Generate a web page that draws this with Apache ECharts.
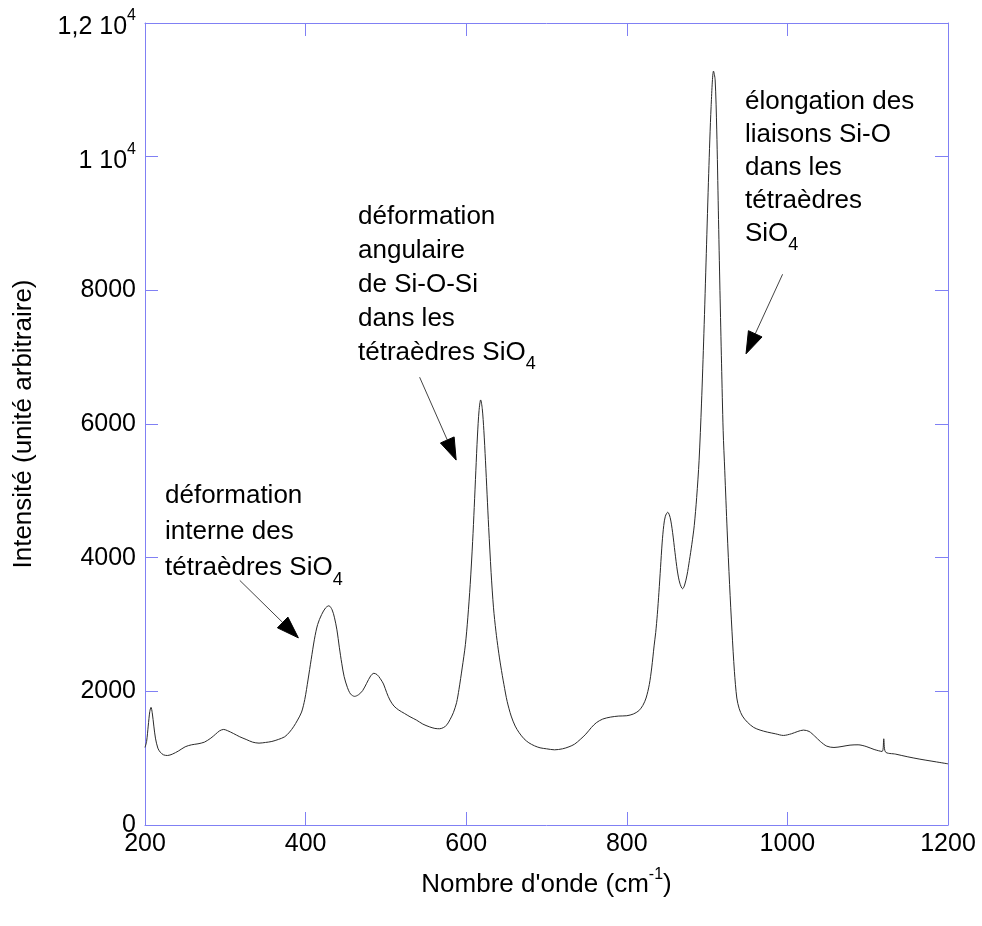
<!DOCTYPE html>
<html><head><meta charset="utf-8">
<script src="https://cdn.jsdelivr.net/npm/echarts@6/dist/echarts.min.js"></script>
<style>html,body{margin:0;padding:0;background:#fff}#c{width:982px;height:926px}</style>
</head><body><div id="c"></div>
<script>
// ---- data ----
const wavenumber = [200,202,204,206,207.5,209,211,213,216,219,223,228,234,242,250,258,266,274,282,288,293,298,303,310,318,326,334,342,350,358,366,374,380,385,390,395,399,403,407,411,415,420,425,429,433,436,439,442,445,448,452,456,461,466,471,476,481,485,489,493,497,501,505,510,516,523,530,538,546,554,561,567,572,576,580,584,588,591,595,599,602,605,608,610,612,614,616,618,620,622,624,626,628,631,634,637,640,643,647,651,656,661,666,672,678,685,692,700,710,720,728,735,742,749,756,762,770,780,790,800,808,815,820,824,828,831,834,836,838,840,842,844,846,848,851,854,857,860,863,866,869.5,872,875,878,881,884,887,890,893,896,899,902,905,908,910,912,914,916,918,920,922,925,928,931,934,937,940,944,950,958,966,975,985,995,1005,1013,1020,1027,1034,1041,1049,1058,1068,1078,1088,1098,1108,1118,1120,1122,1135,1150,1165,1180,1200];
const intensity = [1160,1250,1480,1700,1760,1680,1480,1300,1150,1090,1050,1040,1060,1110,1170,1200,1215,1240,1300,1360,1410,1430,1410,1370,1320,1280,1240,1225,1235,1250,1280,1320,1390,1470,1570,1690,1880,2170,2480,2780,3000,3150,3250,3280,3220,3100,2920,2660,2420,2220,2060,1960,1925,1950,2010,2120,2230,2270,2250,2190,2110,1980,1870,1780,1720,1670,1620,1570,1510,1470,1445,1440,1460,1500,1580,1680,1830,2030,2350,2700,3100,3600,4240,4750,5300,5820,6200,6360,6230,5900,5450,4950,4450,3780,3250,2900,2620,2380,2100,1850,1630,1480,1380,1290,1230,1185,1155,1140,1125,1140,1170,1210,1280,1360,1460,1530,1585,1615,1630,1635,1660,1710,1790,1900,2100,2350,2680,2880,3150,3480,3850,4220,4480,4620,4680,4600,4380,4080,3800,3620,3535,3590,3740,3960,4200,4480,4900,5450,6300,7350,8550,9750,10750,11280,11150,10400,9200,8000,6900,5900,5300,4400,3600,2900,2300,1900,1740,1630,1540,1460,1420,1390,1365,1340,1365,1400,1420,1400,1330,1250,1180,1160,1175,1195,1200,1175,1130,1100,1290,1095,1060,1020,985,955,915];

const xTickValues = [200, 400, 600, 800, 1000, 1200];
const yTickValues = [0, 2000, 4000, 6000, 8000, 10000, 12000];
const yTickLabels = ['0', '2000', '4000', '6000', '8000', '1 10^4', '1,2 10^4'];
const xAxisTitle = "Nombre d'onde (cm^-1)";
const yAxisTitle = 'Intensité (unité arbitraire)';

// annotation texts ("_" marks a subscript) and their arrows (tail -> tip, data coords)
const annotationLines = [
  ['déformation', 'interne des', 'tétraèdres SiO_4'],
  ['déformation', 'angulaire', 'de Si-O-Si', 'dans les', 'tétraèdres SiO_4'],
  ['élongation des', 'liaisons Si-O', 'dans les', 'tétraèdres', 'SiO_4']
];
const arrowTails = [[318, 3660], [542, 6700], [994, 8240]];
const arrowTips = [[391, 2800], [587.5, 5460], [948.5, 7050]];

// ---- presentation ----
const FONT = '"Liberation Sans", Arial, sans-serif';
const FRAME = '#8080f4';
const annotationLayout = [
  {x: 165, y: 483, lh: 36},
  {x: 358, y: 204, lh: 34},
  {x: 745, y: 89, lh: 33}
];

function supRich(t) {
  if (t.indexOf('^') < 0) return t;
  const p = t.split('^');
  const m = p[1].match(/^(-?\d+)(.*)$/);
  return '{a|' + p[0] + '}{sup|' + m[1] + '}' + (m[2] ? '{a|' + m[2] + '}' : '');
}
function subRich(t) {
  if (t.indexOf('_') < 0) return '{a|' + t + '}';
  const p = t.split('_');
  return '{a|' + p[0] + '}{sub|' + p[1] + '}';
}

const chart = echarts.init(document.getElementById('c'), null, {renderer: 'canvas'});
const seriesData = wavenumber.map((x, i) => [x, intensity[i]]);

const labelRich = {
  a: {fontSize: 25, fontFamily: FONT, color: '#000', lineHeight: 30, padding: [8, 0, 0, 0]},
  sup: {fontSize: 16, fontFamily: FONT, color: '#000', lineHeight: 16, padding: [0, 0, 14, 0]}
};
const nameRich = {
  a: {fontSize: 26, fontFamily: FONT, color: '#000', lineHeight: 30},
  sup: {fontSize: 16, fontFamily: FONT, color: '#000', lineHeight: 16, padding: [0, 0, 20, 0]}
};

const xMin = xTickValues[0], xMax = xTickValues[xTickValues.length - 1];
const xInt = xTickValues[1] - xTickValues[0];
const yMin = yTickValues[0], yMax = yTickValues[yTickValues.length - 1];
const yInt = yTickValues[1] - yTickValues[0];

function axisCommon(extra) {
  return Object.assign({
    type: 'value',
    axisLine: {show: true, onZero: false, lineStyle: {color: FRAME, width: 1}},
    axisTick: {show: true, inside: true, length: 13, lineStyle: {color: FRAME, width: 1}},
    splitLine: {show: false}
  }, extra);
}

chart.setOption({
  animation: false,
  backgroundColor: '#fff',
  grid: {left: 145, right: 34, top: 23, bottom: 101, containLabel: false},
  xAxis: [
    axisCommon({
      position: 'bottom', min: xMin, max: xMax, interval: xInt,
      axisLabel: {
        fontSize: 25, fontFamily: FONT, color: '#000', margin: 7,
        formatter: v => { const i = xTickValues.indexOf(v); return i >= 0 ? String(xTickValues[i]) : ''; }
      },
      name: supRich(xAxisTitle), nameLocation: 'middle', nameGap: 45,
      nameTextStyle: {fontSize: 26, fontFamily: FONT, color: '#000', rich: nameRich}
    }),
    axisCommon({position: 'top', min: xMin, max: xMax, interval: xInt, axisLabel: {show: false}})
  ],
  yAxis: [
    axisCommon({
      position: 'left', min: yMin, max: yMax, interval: yInt,
      axisLabel: {
        fontSize: 25, fontFamily: FONT, color: '#000', margin: 9,
        formatter: v => { const i = yTickValues.indexOf(v); return i >= 0 ? supRich(yTickLabels[i]) : ''; },
        rich: labelRich
      },
      name: yAxisTitle, nameLocation: 'middle', nameGap: 108,
      nameTextStyle: {fontSize: 26, fontFamily: FONT, color: '#000'}
    }),
    axisCommon({position: 'right', min: yMin, max: yMax, interval: yInt, axisLabel: {show: false}})
  ],
  series: [{
    type: 'line',
    xAxisIndex: 0, yAxisIndex: 0,
    data: seriesData,
    showSymbol: false,
    smooth: 0.3,
    lineStyle: {color: '#2a2a2a', width: 1},
    silent: true
  }]
});

// annotations + arrows
const graphics = [];
annotationLines.forEach((lines, k) => {
  const L = annotationLayout[k];
  graphics.push({
    type: 'text', x: L.x, y: L.y, silent: true,
    style: {
      text: lines.map(subRich).join('\n'),
      align: 'left', verticalAlign: 'top',
      rich: {
        a: {fontSize: 26, fontFamily: FONT, fill: '#000', lineHeight: L.lh, verticalAlign: 'top'},
        sub: {fontSize: 18, fontFamily: FONT, fill: '#000', lineHeight: 18, verticalAlign: 'top',
              padding: [Math.round(L.lh / 2 - 2), 0, 0, 0]}
      }
    }
  });
});
arrowTails.forEach((tail, k) => {
  const A = chart.convertToPixel({xAxisIndex: 0, yAxisIndex: 0}, tail);
  const T = chart.convertToPixel({xAxisIndex: 0, yAxisIndex: 0}, arrowTips[k]);
  const dx = T[0] - A[0], dy = T[1] - A[1];
  const len = Math.hypot(dx, dy);
  const ux = dx / len, uy = dy / len;
  const hl = 22, hw = 7.5;
  const B = [T[0] - ux * hl, T[1] - uy * hl];
  graphics.push({
    type: 'line', silent: true,
    shape: {x1: A[0], y1: A[1], x2: B[0], y2: B[1]},
    style: {stroke: '#444', lineWidth: 1}
  });
  graphics.push({
    type: 'polygon', silent: true,
    shape: {points: [T, [B[0] - uy * hw, B[1] + ux * hw], [B[0] + uy * hw, B[1] - ux * hw]]},
    style: {fill: '#000', stroke: '#000', lineWidth: 1}
  });
});
chart.setOption({graphic: graphics});
</script>
</body></html>
